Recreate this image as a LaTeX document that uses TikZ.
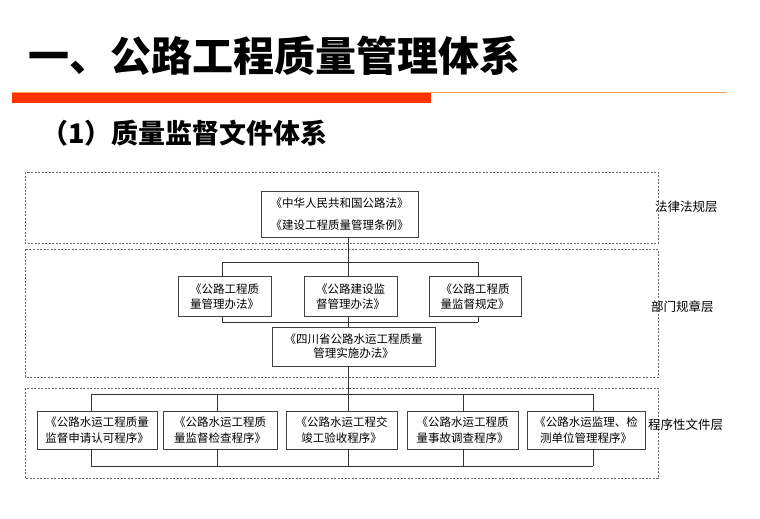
\documentclass[tikz,border=0pt]{standalone}
\usepackage{fontspec}
\setmainfont{Noto Sans CJK SC}
\definecolor{barred}{HTML}{FF3300}
\definecolor{barline}{HTML}{FF9A50}

\begin{document}
\begin{tikzpicture}[x=1pt,y=-1pt,
		doc/.style={draw=black!75,line width=0.8pt,inner sep=0pt,align=center,
			font=\fontsize{11.5}{15}\selectfont},
		layer/.style={draw=black!60,line width=0.8pt,dash pattern=on 2pt off 1.5pt},
		layername/.style={anchor=west,inner sep=0pt,font=\fontsize{12.5}{14}\selectfont},
		link/.style={draw=black!80,line width=0.8pt}]
		\useasboundingbox (0,0) rectangle (760,519);
		% heading
		\node[anchor=west,inner sep=0pt,font=\fontsize{41}{41}\selectfont\bfseries] (title) at (28,56) {一、公路工程质量管理体系};
		\fill[barred] (12,92) rectangle (431,103);
		\draw[barline,line width=1pt] (12,92.5) -- (727,92.5);
		\node[anchor=west,inner sep=0pt,font=\fontsize{27}{27}\selectfont\bfseries] (sub) at (41,133) {（1）质量监督文件体系};
		% layers
		\draw[layer] (25,172) rectangle (658,243);
		\draw[layer] (25,249) rectangle (658,377);
		\draw[layer] (25,388) rectangle (658,478);
		\node[layername] (lawname) at (655,207) {法律法规层};
		\node[layername] (deptname) at (651,307) {部门规章层};
		\node[layername] (procname) at (648,425) {程序性文件层};
		% laws
		\node[doc,minimum width=157,minimum height=46,font=\fontsize{11.5}{22}\selectfont] (law) at (339.5,214) {《中华人民共和国公路法》\\《建设工程质量管理条例》};
		% departmental rules
		\node[doc,minimum width=93,minimum height=40] (ruleA) at (224.5,296.5) {《公路工程质\\量管理办法》};
		\node[doc,minimum width=93,minimum height=40] (ruleB) at (350.5,296.5) {《公路建设监\\督管理办法》};
		\node[doc,minimum width=92,minimum height=40] (ruleC) at (475,296.5) {《公路工程质\\量监督规定》};
		\node[doc,minimum width=163,minimum height=39,font=\fontsize{11.5}{14}\selectfont] (prov) at (353.5,346.5) {《四川省公路水运工程质量\\管理实施办法》};
		\coordinate (m1) at (222,262);
		\coordinate (m2) at (348,262);
		\coordinate (m3) at (478,262);
		\coordinate (n1) at (222,322);
		\coordinate (n2) at (348,322);
		\coordinate (n3) at (478,322);
		\draw[link] (law.south -| m2) -- (m2);
		\draw[link] (m1) -- (m3);
		\draw[link] (m1) -- (m1 |- ruleA.north);
		\draw[link] (m2) -- (m2 |- ruleB.north);
		\draw[link] (m3) -- (m3 |- ruleC.north);
		\draw[link] (n1) -- (n3);
		\draw[link] (n1) -- (n1 |- ruleA.south);
		\draw[link] (n2) -- (n2 |- ruleB.south);
		\draw[link] (n3) -- (n3 |- ruleC.south);
		\draw[link] (n2) -- (n2 |- prov.north);
		% procedures
		\foreach \n/\cx/\w/\lx/\txt in {
			1/97/120/91/{《公路水运工程质量\\监督申请认可程序》},
			2/220/114/217/{《公路水运工程质\\量监督检查程序》},
			3/341.5/111/348/{《公路水运工程交\\竣工验收程序》},
			4/462.5/111/463/{《公路水运工程质\\量事故调查程序》},
			5/586/118/593/{《公路水运监理、检\\测单位管理程序》}} {
			\node[doc,minimum width=\w,minimum height=38,font=\fontsize{11.5}{16}\selectfont] (proc\n) at (\cx,430) {\txt};
			\coordinate (pt\n) at (\lx,394);
			\coordinate (pb\n) at (\lx,466);
			\draw[link] (pt\n) -- (pt\n |- proc\n.north);
			\draw[link] (pb\n) -- (pb\n |- proc\n.south);
		}
		\draw[link] (prov.south -| pt3) -- (pt3);
		\draw[link] (pt1) -- (pt5);
		\draw[link] (pb1) -- (pb5);
\end{tikzpicture}
\end{document}
